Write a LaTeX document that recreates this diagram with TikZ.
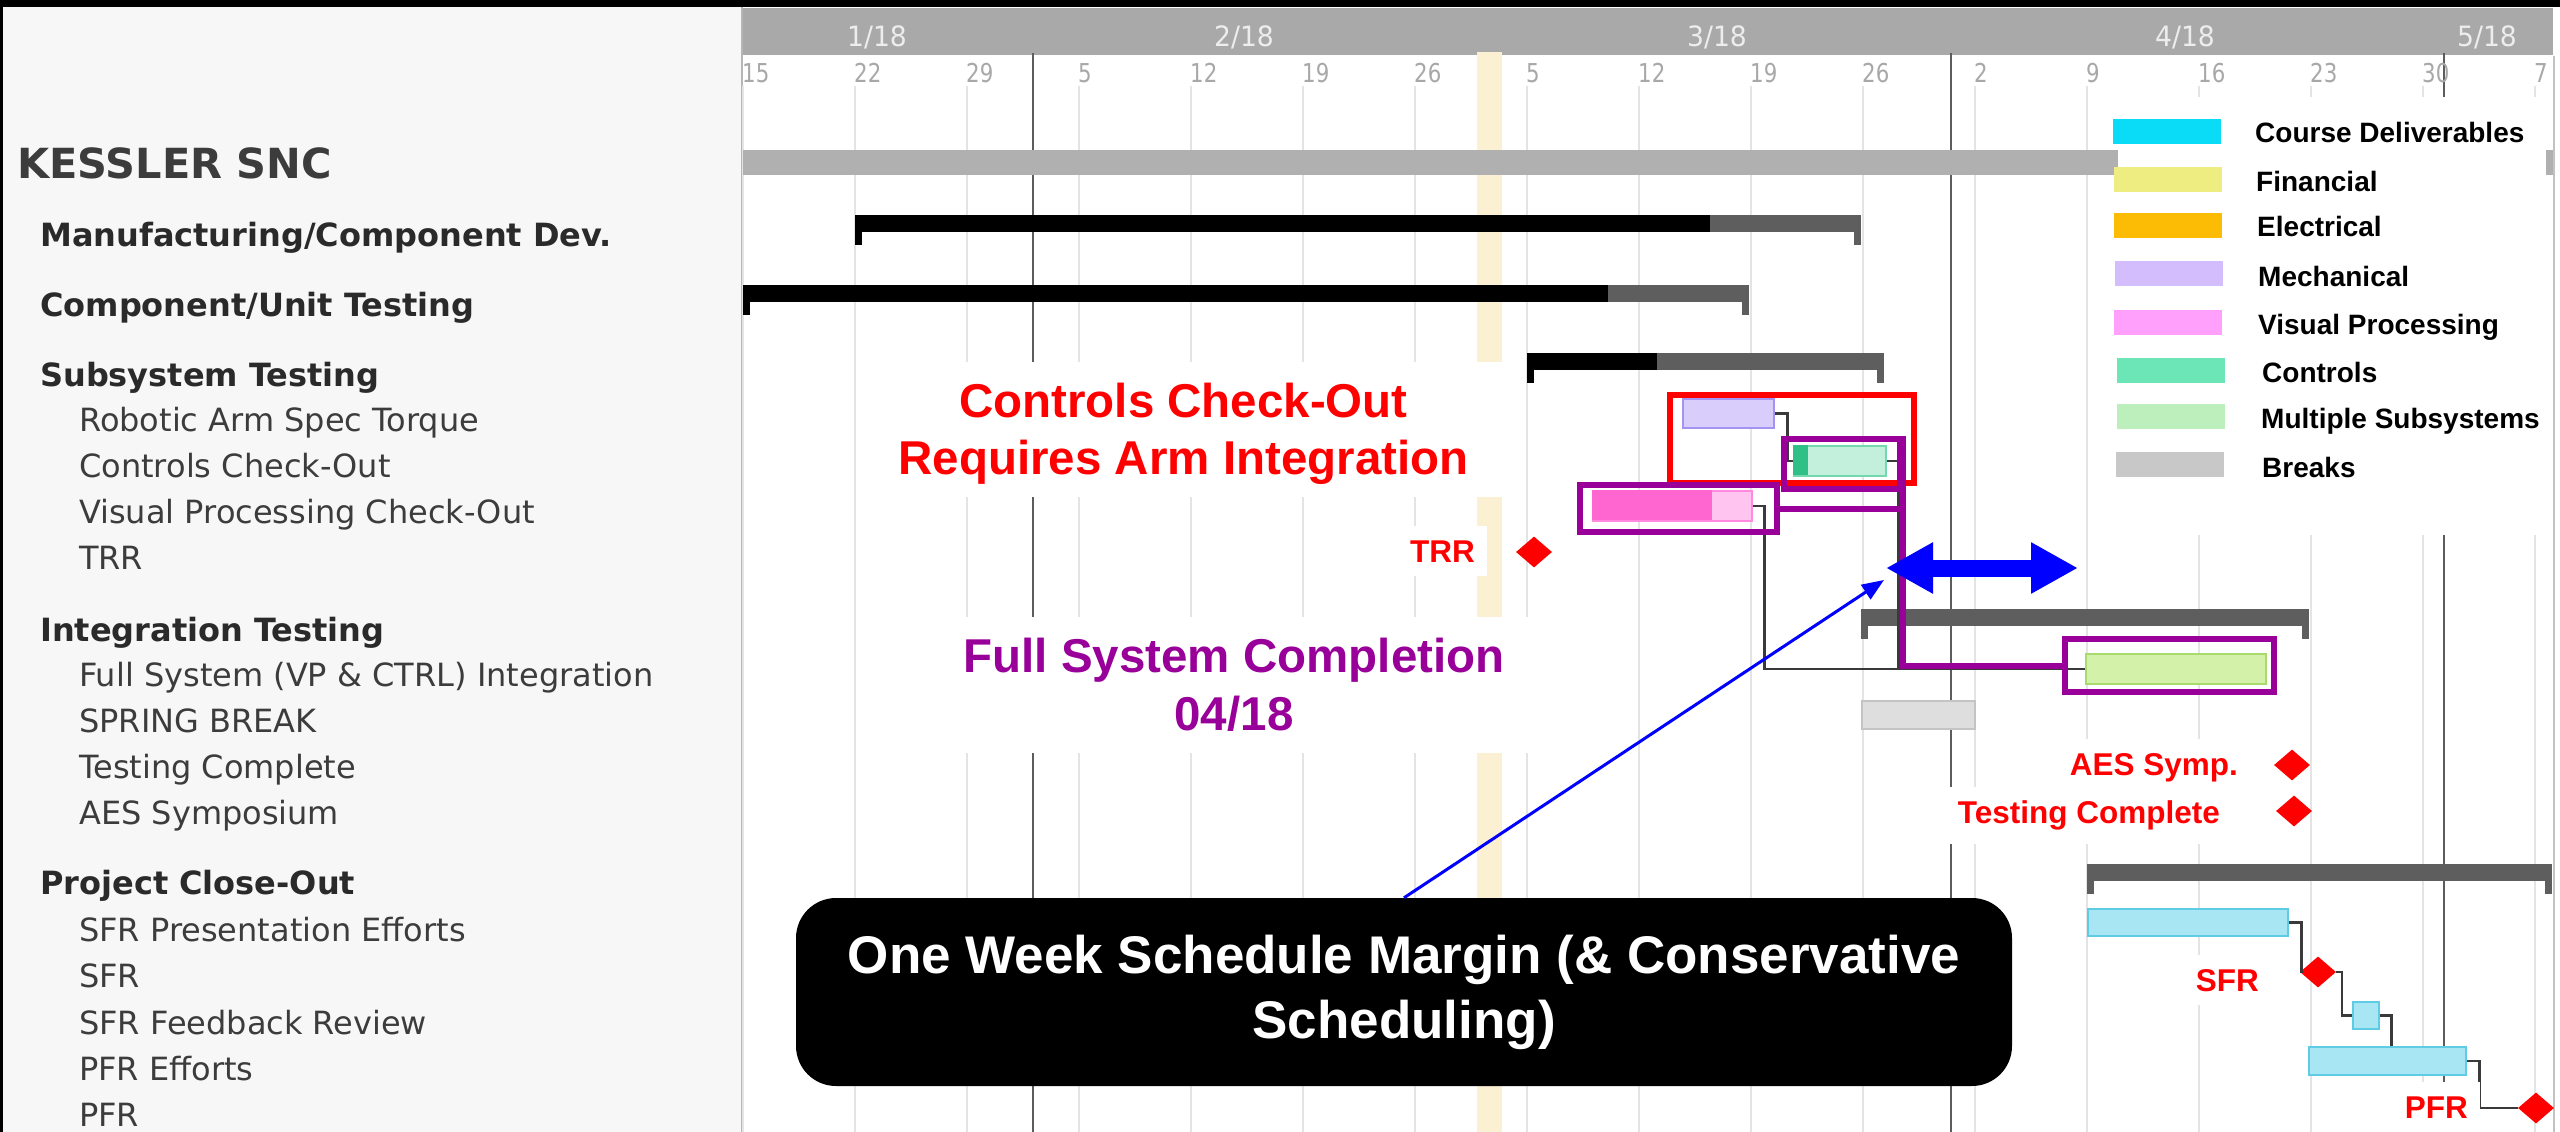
\documentclass[tikz,border=0pt]{standalone}
\usepackage{fontspec}
\usepackage{graphicx}
\usetikzlibrary{shapes.geometric,arrows.meta,calc}
\setmainfont{DejaVu Sans}
\newfontfamily\arialfam{Liberation Sans}
\newcommand\fsz[2]{\fontsize{#1}{#2}\selectfont}

\definecolor{panelbg}{HTML}{F7F7F7}
\definecolor{headbg}{HTML}{A9A9A9}
\definecolor{gridc}{HTML}{E4E4E4}
\definecolor{monthline}{HTML}{5C5C5C}
\definecolor{stripe}{HTML}{FCF0D2}
\definecolor{sumgray}{HTML}{5E5E5E}
\definecolor{topgray}{HTML}{B0B0B0}
\definecolor{headc}{HTML}{2A2A2A}
\definecolor{subc}{HTML}{3C3C3C}
\definecolor{dayc}{HTML}{A8A8A8}
\definecolor{monthtxt}{HTML}{EDEDED}
\definecolor{linkc}{HTML}{3A3A3A}
\definecolor{annred}{HTML}{FF0000}
\definecolor{annpurple}{HTML}{990099}
\definecolor{annblue}{HTML}{0000FF}
% category colours (legend)
\definecolor{cCourse}{HTML}{0ADCF8}
\definecolor{cFin}{HTML}{EDED82}
\definecolor{cElec}{HTML}{FCBC05}
\definecolor{cMech}{HTML}{D3BDFC}
\definecolor{cVP}{HTML}{FFA0FC}
\definecolor{cCtrl}{HTML}{6CE6B6}
\definecolor{cMulti}{HTML}{BCEFBC}
\definecolor{cBreak}{HTML}{C8C8C8}
% bar fills and borders
\definecolor{mechFill}{HTML}{D9CDFB}
\definecolor{mechLine}{HTML}{A493F0}
\definecolor{ctrlFill}{HTML}{C3F0DD}
\definecolor{ctrlLine}{HTML}{74D8AE}
\definecolor{ctrlDone}{HTML}{2EC087}
\definecolor{vpFill}{HTML}{FFC4EF}
\definecolor{vpLine}{HTML}{FF8ADF}
\definecolor{vpDone}{HTML}{FF66CF}
\definecolor{multiFill}{HTML}{D3F1A8}
\definecolor{multiLine}{HTML}{A8DA6E}
\definecolor{breakFill}{HTML}{DEDEDE}
\definecolor{breakLine}{HTML}{C4C4C4}
\definecolor{courseFill}{HTML}{A9E6F4}
\definecolor{courseLine}{HTML}{5FCBE4}

\begin{document}
\begin{tikzpicture}[x=1pt,y=-1pt,
  lefthead/.style={anchor=base west, inner sep=0pt, text=headc, font=\bfseries\fsz{32}{38}},
  leftsub/.style={anchor=base west, inner sep=0pt, text=subc, font=\fsz{32}{38}},
  daylbl/.style={anchor=base west, inner sep=0pt, text=dayc, font=\fsz{26}{30}},
  monthlbl/.style={inner sep=0pt, text=monthtxt, font=\fsz{28}{34}},
  taskbar/.style={rectangle, inner sep=0pt, line width=1.5pt, anchor=north west},
  sumbar/.style={rectangle, inner sep=0pt, fill=sumgray, minimum height=17pt, anchor=north west},
  milestone/.style={diamond, fill=annred, inner sep=0pt, minimum width=36pt, minimum height=31pt},
  deplink/.style={draw=linkc, line width=2.5pt},
  mslabel/.style={anchor=base east, fill=white, text=annred, inner xsep=12pt, inner ysep=14pt, font=\arialfam\bfseries\fsz{31.5}{36}},
  legsw/.style={rectangle, inner sep=0pt, minimum width=108pt, minimum height=25pt, anchor=north west},
  legtx/.style={anchor=base west, inner sep=0pt, text=black, font=\arialfam\bfseries\fsz{28}{33}},
  hlframe/.style={rectangle, draw, line width=6pt, inner sep=0pt},
  callout/.style={align=center, inner sep=0pt, font=\arialfam\bfseries\fsz{47.5}{57.5}},
  calloutbox/.style={rectangle, rounded corners=40pt, fill=black, text=white, align=center, inner sep=0pt,
    minimum width=1216pt, minimum height=188pt, font=\arialfam\bfseries\fsz{53}{65}}
]
\useasboundingbox (0,0) rectangle (2560,1132);

% ---------- background, task list panel, chart area ----------
\fill[black] (0,0) rectangle (2560,1132);
\fill[panelbg] (3,7) rectangle (741,1132);
\fill[white] (743,7) rectangle (2560,1132);
\draw[gridc!80!black, line width=1.5pt] (742,7) -- (742,1132);
\fill[headbg] (743,8) rectangle (2553,55);
\fill[stripe] (1477,52) rectangle (1502,1132);

% week grid
\foreach \k in {0,...,16}
  \draw[gridc, line width=2pt] ({743+112*\k},86) -- ({743+112*\k},1132);
% month boundaries
\foreach \mx in {1033,1951,2444}
  \draw[monthline, line width=2.5pt] (\mx,53) -- (\mx,1132);
\draw[gridc!85!black, line width=1.5pt] (2554,56) -- (2554,1132);

% time scale labels
\foreach \m/\mx [count=\i] in {{1/18}/877,{2/18}/1244,{3/18}/1717,{4/18}/2185,{5/18}/2487}
  \node[monthlbl] (month\i) at (\mx,37) {\scalebox{0.95}[1]{\m}};
\foreach \d [count=\k from 0] in {15,22,29,5,12,19,26,5,12,19,26,2,9,16,23,30,7}
  \node[daylbl] (day\k) at ({742+112*\k},82) {\scalebox{0.82}[1]{\d}};

% ---------- task list ----------
\node[anchor=base west, inner sep=0pt, text=subc, font=\bfseries\fsz{41.5}{48}] (tKessler) at (17,178) {KESSLER SNC};
\node[lefthead] (tManuf)  at (40,246.5) {Manufacturing/Component Dev.};
\node[lefthead] (tUnit)   at (40,316.5) {Component/Unit Testing};
\node[lefthead] (tSubsys) at (40,386)   {Subsystem Testing};
\node[leftsub]  (tArm)    at (79,431.5) {Robotic Arm Spec Torque};
\node[leftsub]  (tCtrl)   at (79,477.5) {Controls Check-Out};
\node[leftsub]  (tVP)     at (79,523.5) {Visual Processing Check-Out};
\node[leftsub]  (tTRR)    at (79,569.5) {TRR};
\node[lefthead] (tInteg)  at (40,641.5) {Integration Testing};
\node[leftsub]  (tFull)   at (79,686.5) {Full System (VP \& CTRL) Integration};
\node[leftsub]  (tSpring) at (79,732.5) {SPRING BREAK};
\node[leftsub]  (tDone)   at (79,778.5) {Testing Complete};
\node[leftsub]  (tAES)    at (79,824.5) {AES Symposium};
\node[lefthead] (tClose)  at (40,894.5) {Project Close-Out};
\node[leftsub]  (tSFRp)   at (79,941.5) {SFR Presentation Efforts};
\node[leftsub]  (tSFR)    at (79,987.5) {SFR};
\node[leftsub]  (tSFRf)   at (79,1034.5) {SFR Feedback Review};
\node[leftsub]  (tPFRe)   at (79,1080.5) {PFR Efforts};
\node[leftsub]  (tPFR)    at (79,1126.5) {PFR};

% ---------- summary bars ----------
\node[sumbar, fill=topgray, minimum width=1810pt, minimum height=25pt] (kbar) at (743,150) {};

\node[sumbar, minimum width=1006pt] (manuf) at (855,215) {};
\fill[black] (manuf.north west) rectangle ++(855,17);
\fill[black] (manuf.south west) rectangle ++(7,13);
\fill[sumgray] (manuf.south east) rectangle ++(-7,13);

\node[sumbar, minimum width=1006pt] (unit) at (743,285) {};
\fill[black] (unit.north west) rectangle ++(865,17);
\fill[black] (unit.south west) rectangle ++(7,13);
\fill[sumgray] (unit.south east) rectangle ++(-7,13);

\node[sumbar, minimum width=357pt] (subsys) at (1527,353) {};
\fill[black] (subsys.north west) rectangle ++(130,17);
\fill[black] (subsys.south west) rectangle ++(7,13);
\fill[sumgray] (subsys.south east) rectangle ++(-7,13);

\node[sumbar, minimum width=448pt] (integ) at (1861,609) {};
\fill[sumgray] (integ.south west) rectangle ++(7,13);
\fill[sumgray] (integ.south east) rectangle ++(-7,13);

\node[sumbar, minimum width=465pt] (close) at (2087,864) {};
\fill[sumgray] (close.south west) rectangle ++(7,13);
\fill[sumgray] (close.south east) rectangle ++(-7,13);

% ---------- task bars ----------
\node[taskbar, fill=mechFill, draw=mechLine, minimum width=91pt, minimum height=29pt] (arm) at (1682,398) {};
\node[taskbar, fill=ctrlFill, draw=ctrlLine, minimum width=92pt, minimum height=30pt] (ctrl) at (1793,445) {};
\fill[ctrlDone] (ctrl.north west) rectangle ++(15,30);
\node[taskbar, fill=vpFill, draw=vpLine, minimum width=159pt, minimum height=30pt] (vp) at (1592,490) {};
\fill[vpDone] (vp.north west) rectangle ++(120,30);
\node[taskbar, fill=multiFill, draw=multiLine, minimum width=180pt, minimum height=30pt] (full) at (2085,653) {};
\node[taskbar, fill=breakFill, draw=breakLine, minimum width=113pt, minimum height=28pt] (spring) at (1861,700) {};
\node[taskbar, fill=courseFill, draw=courseLine, minimum width=200pt, minimum height=27pt] (sfrp) at (2087,908) {};
\node[taskbar, fill=courseFill, draw=courseLine, minimum width=26pt, minimum height=27pt] (sfrf) at (2352,1001) {};
\node[taskbar, fill=courseFill, draw=courseLine, minimum width=157pt, minimum height=28pt] (pfre) at (2308,1046) {};

% ---------- milestones ----------
\node[milestone] (trrMs)  at (1534,552) {};
\node[milestone] (aesMs)  at (2292,765) {};
\node[milestone] (doneMs) at (2294,811) {};
\node[milestone] (sfrMs)  at (2318,972) {};
\node[milestone] (pfrMs)  at (2536,1108) {};

% ---------- dependencies ----------
\draw[deplink] (arm.east) -- ++(13,0) |- (ctrl.west);
\draw[deplink] (ctrl.east) -- ++(12,0) |- (full.west);
\draw[deplink] (vp.east) -- ++(12,0) |- (full.west);
\draw[deplink] (sfrp.east) -- ++(13,0) |- (sfrMs.west);
\draw[deplink] (sfrMs.east) -- ++(6,0) |- (sfrf.west);
\draw[deplink] (sfrf.east) -- ++(12,0) coordinate (fbTurn) -- (fbTurn |- pfre.north);
\draw[deplink] (pfre.east) -- ++(13,0) |- (pfrMs.west);

% ---------- milestone labels ----------
\node[mslabel] (trrLbl)  at (1487,562)    {TRR};
\node[mslabel] (aesLbl)  at (2250,775)    {AES Symp.};
\node[mslabel] (doneLbl) at (2232,823.5)  {Testing Complete};
\node[mslabel] (sfrLbl)  at (2271,991)    {SFR};
\node[mslabel] (pfrLbl)  at (2480,1118)   {PFR};

% ---------- legend ----------
\fill[white] (2118,97) rectangle (2546,535);
\node[legsw, fill=cCourse] (lgCourse) at (2113,119) {};
\node[legsw, fill=cFin]    (lgFin)    at (2114,167) {};
\node[legsw, fill=cElec]   (lgElec)   at (2114,213) {};
\node[legsw, fill=cMech]   (lgMech)   at (2115,261) {};
\node[legsw, fill=cVP]     (lgVP)     at (2114,310) {};
\node[legsw, fill=cCtrl]   (lgCtrl)   at (2117,358) {};
\node[legsw, fill=cMulti]  (lgMulti)  at (2117,404) {};
\node[legsw, fill=cBreak]  (lgBreak)  at (2116,452) {};
\node[legtx] (lgtCourse) at (2255,142) {Course Deliverables};
\node[legtx] (lgtFin)    at (2256,191) {Financial};
\node[legtx] (lgtElec)   at (2257,236) {Electrical};
\node[legtx] (lgtMech)   at (2258,286) {Mechanical};
\node[legtx] (lgtVP)     at (2258,334) {Visual Processing};
\node[legtx] (lgtCtrl)   at (2262,382) {Controls};
\node[legtx] (lgtMulti)  at (2261,428) {Multiple Subsystems};
\node[legtx] (lgtBreak)  at (2262,477) {Breaks};

% ---------- call-outs ----------
\fill[white] (880,362) rectangle (1507,497);
\node[callout, text=annred] (reqText) at (1183.5,434)
  {Controls Check-Out\\Requires Arm Integration};
\fill[white] (880,617) rectangle (1595,753);
\node[callout, text=annpurple] (fullText) at (1234,685)
  {Full System Completion\\04/18};

\node[hlframe, draw=annred, line width=6.5pt, minimum width=244pt, minimum height=88pt] (reqFrame) at (1792,439) {};
\node[hlframe, draw=annpurple, minimum width=116pt, minimum height=50pt] (ctrlFrame) at (1842,464) {};
\node[hlframe, draw=annpurple, minimum width=197pt, minimum height=47pt] (vpFrame) at (1678.5,508.5) {};
\node[hlframe, draw=annpurple, minimum width=209pt, minimum height=53pt] (fullFrame) at (2169.5,665.5) {};
\draw[annpurple, line width=6pt] (vpFrame.east) -- (vpFrame.east -| ctrlFrame.east);
\draw[annpurple, line width=6pt] (ctrlFrame.north east) |- (fullFrame.west);

% schedule margin
\coordinate (marginL) at (1886,568);
\coordinate (marginR) at (2078,568);
\draw[annblue, line width=17pt, {Triangle[length=47pt,width=48pt]}-{Triangle[length=47pt,width=48pt]}] (marginL) -- (marginR);

\node[calloutbox] (marginNote) at (1404,992) {One Week Schedule Margin (\& Conservative\\Scheduling)};
\coordinate (marginTip) at (1884,580);
\draw[annblue, line width=3pt, -{Triangle[length=22pt,width=17pt]}] (marginNote.north) -- (marginTip);

\end{tikzpicture}
\end{document}
